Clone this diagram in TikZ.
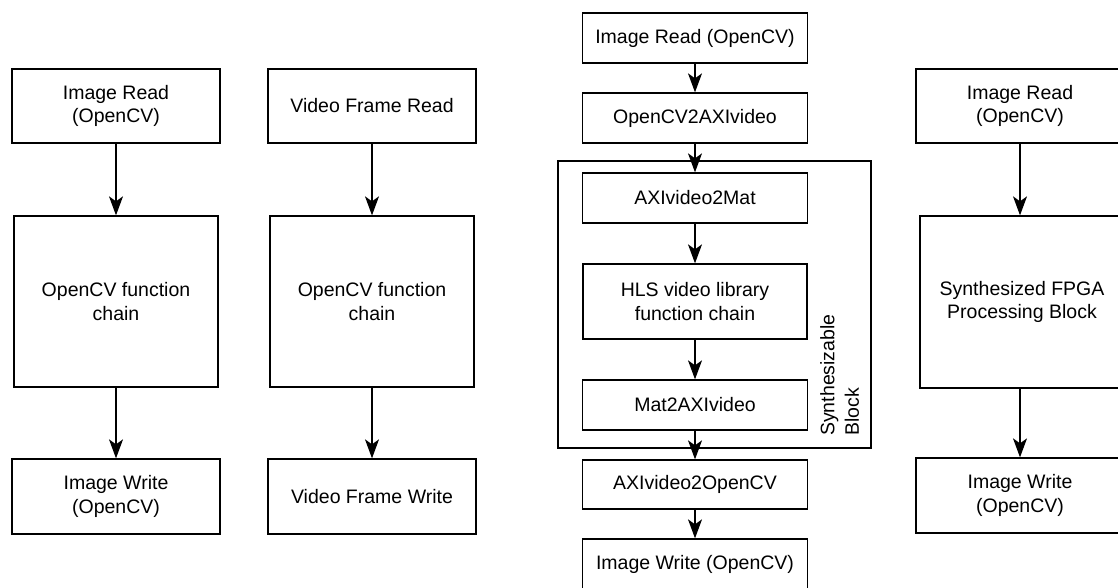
\documentclass[tikz,border=0pt]{standalone}
\usepackage{fontspec}
\setmainfont{Liberation Sans}
\usetikzlibrary{arrows.meta}
\begin{document}
\begin{tikzpicture}[x=1pt,y=-1pt,
  blk/.style={draw, line width=1.3pt, fill=white, inner sep=0pt, align=center,
              font=\fontsize{19.5}{23.5}\selectfont},
  flow/.style={-{Stealth[length=19pt,width=14pt,inset=5pt]}, line width=1.3pt}]
\useasboundingbox (0,0) rectangle (1118,588);
\clip (0,0) rectangle (1118,588);

% column 1: OpenCV image pipeline
\node[blk, minimum width=208pt, minimum height=74pt]  (r1) at (116,106)   {Image Read\\(OpenCV)};
\node[blk, minimum width=204pt, minimum height=171pt] (f1) at (116,301.5) {OpenCV function\\chain};
\node[blk, minimum width=208pt, minimum height=75pt]  (w1) at (116,496.5) {Image Write\\(OpenCV)};
\draw[flow] (r1) -- (f1);
\draw[flow] (f1) -- (w1);

% column 2: OpenCV video pipeline
\node[blk, minimum width=208pt, minimum height=74pt]  (r2) at (372,106)   {Video Frame Read};
\node[blk, minimum width=204pt, minimum height=171pt] (f2) at (372,301.5) {OpenCV function\\chain};
\node[blk, minimum width=208pt, minimum height=75pt]  (w2) at (372,496.5) {Video Frame Write};
\draw[flow] (r2) -- (f2);
\draw[flow] (f2) -- (w2);

% column 3: HLS test bench with synthesizable block
\node[draw, line width=1.3pt, minimum width=313pt, minimum height=287pt, inner sep=0pt] (syn) at (714.5,304.5) {};
\node[rotate=90, anchor=north west, inner sep=0pt, align=left,
      font=\fontsize{19.5}{24.5}\selectfont] (synlbl) at (820,436) {Synthesizable\\Block};
\node[blk, minimum width=225pt, minimum height=50pt] (a) at (695,38)    {Image Read (OpenCV)};
\node[blk, minimum width=225pt, minimum height=50pt] (b) at (695,118)   {OpenCV2AXIvideo};
\node[blk, minimum width=225pt, minimum height=50pt] (c) at (695,198)   {AXIvideo2Mat};
\node[blk, minimum width=224pt, minimum height=75pt] (d) at (695,301.5) {HLS video library\\function chain};
\node[blk, minimum width=225pt, minimum height=50pt] (e) at (695,405)   {Mat2AXIvideo};
\node[blk, minimum width=225pt, minimum height=49pt] (f) at (695,484.5) {AXIvideo2OpenCV};
\node[blk, minimum width=225pt, minimum height=50pt] (g) at (695,564)   {Image Write (OpenCV)};
\draw[flow] (a) -- (b);
\draw[flow] (b) -- (c);
\draw[flow] (c) -- (d);
\draw[flow] (d) -- (e);
\draw[flow] (e) -- (f);
\draw[flow] (f) -- (g);

% column 4: synthesized FPGA pipeline
\node[blk, minimum width=208pt, minimum height=74pt]  (r4) at (1020,106) {Image Read\\(OpenCV)};
\node[blk, minimum width=204pt, minimum height=172pt] (f4) at (1022,302) {Synthesized FPGA\\Processing Block};
\node[blk, minimum width=208pt, minimum height=75pt]  (w4) at (1020,495.5) {Image Write\\(OpenCV)};
\draw[flow] (r4) -- (r4 |- f4.north);
\draw[flow] (f4.south -| r4) -- (w4);
\end{tikzpicture}
\end{document}
